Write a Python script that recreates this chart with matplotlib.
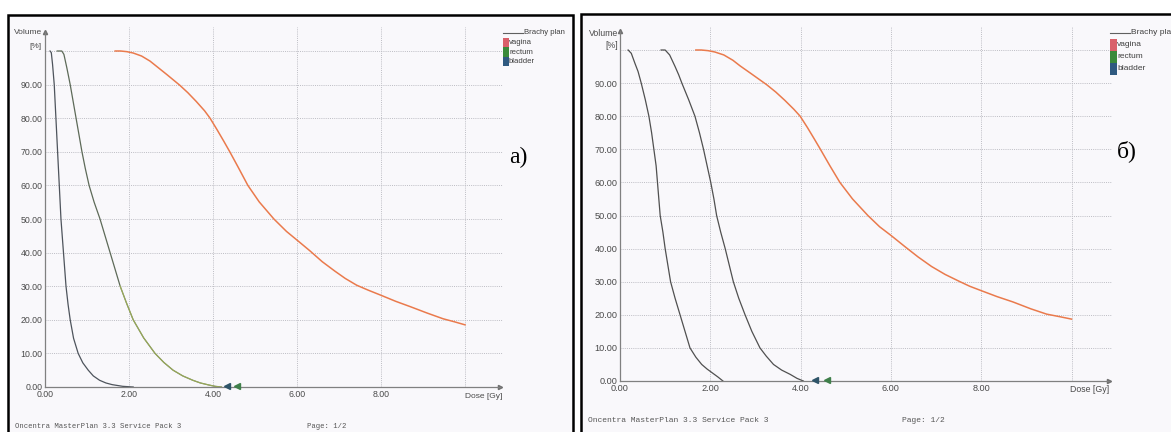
import numpy as np
import matplotlib
matplotlib.use('Agg')
import matplotlib.pyplot as plt
from matplotlib.patches import Rectangle

# panel a) - DVH curves (dose in Gy, volume in %)
vagina_a_dose = [1.67, 1.80, 1.95, 2.10, 2.30, 2.50, 2.67, 2.90, 3.21, 3.40, 3.60, 3.80, 3.93, 4.10, 4.25,
                 4.40, 4.60, 4.83, 5.10, 5.45, 5.75, 6.07, 6.31, 6.60, 6.90, 7.15, 7.42, 7.70, 8.00, 8.35,
                 8.70, 9.10, 9.48, 9.75, 10.00]
vagina_a_vol = [100, 100, 99.8, 99.4, 98.5, 97.0, 95.3, 93.0, 89.8, 87.6, 85.0, 82.2, 80.0, 76.5, 73.3,
                70.0, 65.4, 60.0, 55.1, 50.0, 46.3, 43.0, 40.5, 37.3, 34.5, 32.3, 30.3, 28.8, 27.3, 25.5,
                23.9, 22.0, 20.3, 19.4, 18.5]
rectum_a_dose = [0.29, 0.40, 0.45, 0.52, 0.60, 0.67, 0.74, 0.81, 0.88, 0.96, 1.05, 1.17, 1.31, 1.43, 1.55,
                 1.67, 1.79, 1.94, 2.10, 2.35, 2.62, 2.83, 3.05, 3.28, 3.52, 3.70, 3.90, 4.05, 4.20]
rectum_a_vol = [100, 100, 99, 95, 90, 85, 80, 75, 70, 65, 60, 55, 50, 45, 40,
                35, 30, 25, 20, 14.6, 10, 7.3, 5, 3.3, 2, 1.2, 0.6, 0.2, 0]
bladder_a_dose = [0.12, 0.15, 0.18, 0.22, 0.26, 0.30, 0.34, 0.38, 0.44, 0.50, 0.55, 0.60, 0.68, 0.79,
                  0.90, 1.03, 1.15, 1.30, 1.45, 1.60, 1.85, 2.10]
bladder_a_vol = [100, 99.5, 96, 90, 80, 70, 60, 50, 40, 30, 24.5, 20, 14.5, 10,
                 7.2, 5, 3.3, 2, 1.2, 0.7, 0.2, 0]
markers_a = [4.33, 4.56]

# panel б)
vagina_b_dose = [1.68, 1.80, 1.95, 2.10, 2.30, 2.50, 2.66, 2.90, 3.25, 3.45, 3.65, 3.85, 3.99, 4.15, 4.30,
                 4.43, 4.65, 4.87, 5.15, 5.49, 5.75, 6.00, 6.31, 6.60, 6.90, 7.20, 7.53, 7.75, 8.00, 8.35,
                 8.70, 9.10, 9.45, 9.75, 10.00]
vagina_b_vol = [100, 100, 99.8, 99.4, 98.5, 96.9, 95.2, 92.9, 89.5, 87.3, 84.8, 82.1, 80.0, 76.6, 73.2,
                70.2, 65.0, 60.0, 55.0, 50.0, 46.6, 44.0, 40.6, 37.5, 34.6, 32.2, 30.0, 28.6, 27.3, 25.5,
                23.9, 21.8, 20.2, 19.4, 18.7]
rectum_b_dose = [0.91, 1.00, 1.10, 1.22, 1.30, 1.37, 1.52, 1.66, 1.76, 1.85, 1.93, 2.01, 2.08, 2.14, 2.23,
                 2.33, 2.42, 2.51, 2.63, 2.77, 2.92, 3.10, 3.24, 3.40, 3.58, 3.77, 3.92, 4.06]
rectum_b_vol = [100, 100, 98.5, 95, 92.5, 90, 85, 80, 75, 70, 65, 60, 55, 50, 45,
                40, 35, 30, 25, 20, 15, 10, 7.5, 5, 3.3, 2, 0.8, 0]
bladder_b_dose = [0.18, 0.25, 0.33, 0.40, 0.47, 0.56, 0.64, 0.70, 0.75, 0.80, 0.83, 0.86, 0.89, 0.95, 1.00,
                  1.06, 1.12, 1.22, 1.33, 1.44, 1.55, 1.68, 1.81, 1.93, 2.05, 2.17, 2.28]
bladder_b_vol = [100, 99, 96, 93.5, 90, 85, 80, 75, 70, 65, 60, 55, 50, 45, 40,
                 35, 30, 25, 20, 15, 10, 7.2, 5, 3.6, 2.4, 1.2, 0]
markers_b = [4.32, 4.58]

x_ticks = [0, 2, 4, 6, 8]
y_ticks = [0, 10, 20, 30, 40, 50, 60, 70, 80, 90]
legend_labels = ['vagina', 'rectum', 'bladder']
legend_colors = ['#d9606a', '#3a8a3a', '#2f5a80']
marker_colors = ['#2e5468', '#3f7f4a']

W, H = 1171, 432
fig = plt.figure(figsize=(W / 100, H / 100), dpi=100)
fig.patch.set_facecolor('white')


def fx(px):
    return px / W


def fy(py):
    return 1 - py / H


# paper frames
fig.add_artist(Rectangle((fx(8), -0.1), fx(573 - 8), fy(15) + 0.1, transform=fig.transFigure,
                         facecolor='#f9f8fb', edgecolor='black', lw=1.8, zorder=-5))
fig.add_artist(Rectangle((fx(581), -0.1), fx(700), fy(14) + 0.1, transform=fig.transFigure,
                         facecolor='#f9f8fb', edgecolor='black', lw=1.8, zorder=-5))


def draw_panel(x0, y0, pxgy, pxpct, vag, rec, bla, marks, rec_tail, curve_cols, fs_tick):
    ax = fig.add_axes([fx(x0), (H - y0) / H, pxgy * 10.9 / W, pxpct * 107 / H])
    ax.set_facecolor('none')
    ax.set_xlim(0, 10.9)
    ax.set_ylim(0, 107)
    ax.set_xticks(x_ticks)
    ax.set_xticklabels(['%.2f' % v for v in x_ticks])
    ax.set_yticks(y_ticks)
    ax.set_yticklabels(['%.2f' % v for v in y_ticks])
    ax.tick_params(length=0, labelsize=fs_tick, labelcolor='#4a4a4a', pad=2)
    for lab in ax.get_xticklabels() + ax.get_yticklabels():
        lab.set_family('Liberation Sans')
    for s in ['top', 'right']:
        ax.spines[s].set_visible(False)
    for s in ['left', 'bottom']:
        ax.spines[s].set_color('#808080')
        ax.spines[s].set_linewidth(0.9)
    ax.spines['left'].set_bounds(0, 105.8)
    ax.spines['bottom'].set_bounds(0, 10.84)
    ax.plot([0], [105.8], marker='^', color='#707070', ms=3, clip_on=False)
    ax.plot([10.84], [0], marker='>', color='#707070', ms=3, clip_on=False)

    # grid
    for g in [10, 20, 30, 40, 50, 60, 70, 80, 90, 100]:
        ax.axhline(g, color='#bdbdc4', lw=0.7, ls=(0, (1, 1.2)), zorder=0)
    for g in [2, 4, 6, 8, 10]:
        ax.axvline(g, color='#bdbdc4', lw=0.7, ls=(0, (1, 1.2)), zorder=0)

    ax.plot(vag[0], vag[1], color='#ea7a4c', lw=1.1)
    ax.plot(rec[0], rec[1], color=curve_cols[0], lw=0.9)
    if rec_tail:
        ax.plot(rec[0][16:], rec[1][16:], color='#b2c653', lw=0.8, alpha=0.7)
    ax.plot(bla[0], bla[1], color=curve_cols[1], lw=0.9)

    for m, c in zip(marks, marker_colors):
        ax.plot([m], [0.3], marker='<', color=c, ms=5, clip_on=False, zorder=5)
    return ax


ax1 = draw_panel(45, 387, 42, 3.36, (vagina_a_dose, vagina_a_vol), (rectum_a_dose, rectum_a_vol),
                 (bladder_a_dose, bladder_a_vol), markers_a, True, ['#5d6a58', '#4e545c'], 6.3)
ax2 = draw_panel(620, 381, 45.15, 3.31, (vagina_b_dose, vagina_b_vol), (rectum_b_dose, rectum_b_vol),
                 (bladder_b_dose, bladder_b_vol), markers_b, False, ['#505050', '#505050'], 6.6)

# axis captions
for (vx, vy, px_, py_, dx, dy, fs) in [(42, 33, 41, 47, 502, 397, 6.0), (618, 33, 618, 45, 1109, 390, 6.3)]:
    fig.text(fx(vx), fy(vy), 'Volume', ha='right', va='center', fontsize=fs, color='#4a4a4a', family='Liberation Sans')
    fig.text(fx(px_), fy(py_), '[%]', ha='right', va='center', fontsize=fs, color='#4a4a4a', family='Liberation Sans')
    fig.text(fx(dx), fy(dy), 'Dose [Gy]', ha='right', va='center', fontsize=fs, color='#4a4a4a', family='Liberation Sans')

# legends
for (lx, ly, step, sw, fs) in [(503, 33, 9.5, 6, 5.6), (1110, 33, 12, 7, 6.0)]:
    fig.add_artist(plt.Line2D([fx(lx), fx(lx + 20)], [fy(ly), fy(ly)], color='#606060', lw=0.8))
    fig.text(fx(lx + 21), fy(ly), 'Brachy plan', ha='left', va='center', fontsize=fs, color='#404040', family='Liberation Sans')
    for i, (lab, col) in enumerate(zip(legend_labels, legend_colors)):
        yy = ly + step * (i + 1)
        fig.add_artist(Rectangle((fx(lx), fy(yy + step / 2)), fx(sw), step / H, transform=fig.transFigure,
                                 facecolor=col, edgecolor='none'))
        fig.text(fx(lx + sw), fy(yy), lab, ha='left', va='center', fontsize=fs, color='#404040', family='Liberation Sans')

# panel letters
fig.text(fx(518), fy(157), 'a)', ha='center', va='center', fontsize=17, family='Liberation Serif')
fig.text(fx(1127), fy(151), 'б)', ha='center', va='center', fontsize=17, family='Liberation Serif')

# page footers
fig.text(fx(15), fy(426), 'Oncentra MasterPlan 3.3 Service Pack 3', ha='left', va='center', fontsize=5.2,
         color='#555555', family='Liberation Mono')
fig.text(fx(307), fy(426), 'Page: 1/2', ha='left', va='center', fontsize=5.2, color='#555555', family='Liberation Mono')
fig.text(fx(588), fy(420), 'Oncentra MasterPlan 3.3 Service Pack 3', ha='left', va='center', fontsize=5.8,
         color='#555555', family='Liberation Mono')
fig.text(fx(902), fy(420), 'Page: 1/2', ha='left', va='center', fontsize=5.8, color='#555555', family='Liberation Mono')

plt.savefig('out.png', dpi=100)
